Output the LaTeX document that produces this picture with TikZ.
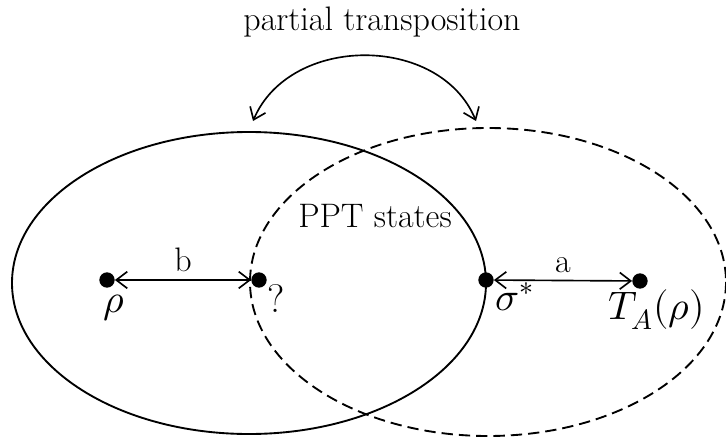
\documentclass[tikz,border=0pt]{standalone}
\usepackage{amsmath}
\usepackage{unicode-math}
\usepackage{tikz}
\usetikzlibrary{arrows.meta,positioning}

\begin{document}
\begin{tikzpicture}[x=0.3mm,y=-0.3mm,
  pt/.style={circle,fill=black,inner sep=0pt,minimum size=4.6mm},
  set/.style={line width=1.6pt},
  dist/.style={line width=1.4pt,{Straight Barb[length=3.3mm,width=5mm]}-{Straight Barb[length=3.3mm,width=5mm]}},
  lbl/.style={font=\fontsize{29}{34}\selectfont},
  sym/.style={font=\fontsize{34}{40}\selectfont}]
\useasboundingbox (0,0) rectangle (726,440);
% the two sets
\draw[set] (249,283) ellipse [x radius=237,y radius=151];
\draw[set,dash pattern=on 3.4mm off 1.8mm] (488,282) ellipse [x radius=238,y radius=154];
% points
\node[pt] (rho) at (107,280) {};
\node[pt] (q) at (259,280) {};
\node[pt] (sig) at (486,280) {};
\node[pt] (ta) at (640,281) {};
\node[sym,below right=1.5mm and -4mm of rho] (rhol) {$\rho$};
\node[sym,right=-1mm of q,yshift=-5.5mm] (ql) {?};
\node[sym,below right=-2mm and 0mm of sig] (sigl) {$\sigma^{*}$};
\node[sym,below=-1mm of ta,xshift=5mm] (tal) {$T_A(\rho)$};
% distances
\draw[dist] (rho) -- node[lbl,above=1mm] {b} (q);
\draw[dist] (sig) -- node[lbl,above=1mm] {a} (ta);
\node[lbl] (ppt) at (375,216) {PPT states};
% transposition
\node[lbl] (pt) at (382,22) {partial transposition};
\coordinate (l) at (253,121);
\coordinate (r) at (476,121);
\draw[dist] (l) .. controls (290,34) and (440,34) .. (r);
\end{tikzpicture}
\end{document}
